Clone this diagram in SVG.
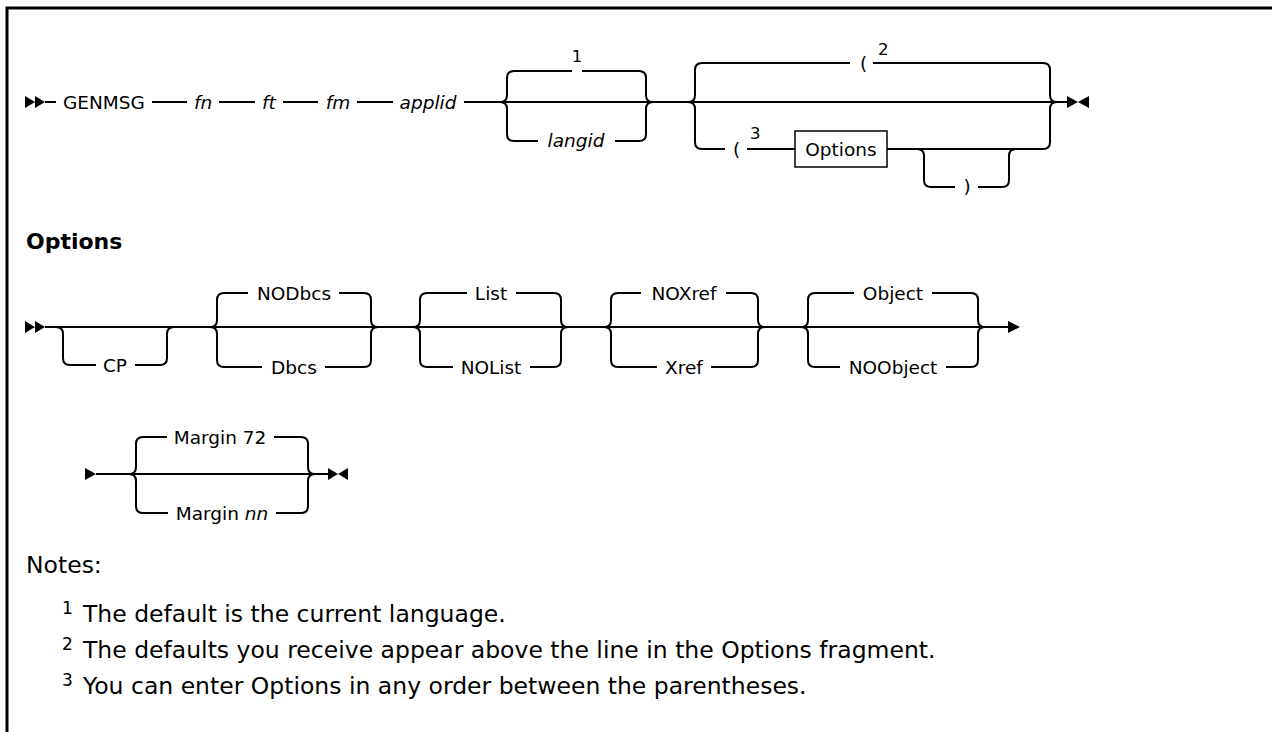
<svg xmlns="http://www.w3.org/2000/svg" width="1272" height="732" viewBox="0 0 1272 732">
<defs>
<style>
.ln{fill:none;stroke:#000;stroke-width:2}
.mk{fill:#000;stroke:none}
.t{font-family:"DejaVu Sans",Verdana,sans-serif;font-size:18.5px;fill:#000}
.i{font-style:italic}
.m{text-anchor:middle}
.sup{font-family:"DejaVu Sans",Verdana,sans-serif;font-size:16.5px;fill:#000}
.h{font-family:"DejaVu Sans",Verdana,sans-serif;font-size:22px;font-weight:bold;fill:#000}
.n{font-family:"DejaVu Sans",Verdana,sans-serif;font-size:23.5px;fill:#000}
.ns{font-family:"DejaVu Sans",Verdana,sans-serif;font-size:17px;fill:#000}
</style>
</defs>
<rect x="0" y="0" width="1272" height="732" fill="#fff"/>
<g id="frame"><path class="ln" d="M7,732 V8 H1272" style="stroke-width:3"/></g>

<g id="connectors">
<!-- Row 1 -->
<path class="mk" d="M25,96 L35,102 L25,108 Z M35,96 L45,102 L35,108 Z"/>
<path class="ln" d="M45,102 H56 M152,102 H187 M219,102 H255 M283,102 H318 M357,102 H393 M464,102 H500"/>
<!-- group langid -->
<path class="ln" d="M500,102 H653"/>
<path class="ln" d="M500,102 Q507,102 507,95 V78 Q507,71 514,71 H572 M582,71 H639 Q646,71 646,78 V95 Q646,102 653,102"/>
<path class="ln" d="M500,102 Q507,102 507,109 V134 Q507,141 514,141 H538 M615,141 H639 Q646,141 646,134 V109 Q646,102 653,102"/>
<path class="ln" d="M653,102 H688"/>
<!-- group options -->
<path class="ln" d="M688,102 H1057"/>
<path class="ln" d="M688,102 Q695,102 695,95 V70 Q695,63 702,63 H850 M873,63 H1043 Q1050,63 1050,70 V95 Q1050,102 1057,102"/>
<path class="ln" d="M688,102 Q695,102 695,109 V142 Q695,149 702,149 H725 M747,149 H795 M887,149 H1043 Q1050,149 1050,142 V109 Q1050,102 1057,102"/>
<path class="ln" d="M917,149 Q924,149 924,156 V180 Q924,187 931,187 H955 M978,187 H1002 Q1009,187 1009,180 V156 Q1009,149 1016,149"/>
<path class="ln" d="M1057,102 H1067"/>
<path class="mk" d="M1067,96 L1078,102 L1067,108 Z M1089,96 L1078,102 L1089,108 Z"/>

<!-- Row 2 -->
<path class="mk" d="M25,321 L35,327 L25,333 Z M35,321 L45,327 L35,333 Z"/>
<path class="ln" d="M45,327 H1008"/>
<path class="mk" d="M1008,321 L1020,327 L1008,333 Z"/>
<!-- CP -->
<path class="ln" d="M56,327 Q63,327 63,334 V358 Q63,365 70,365 H96 M135,365 H160 Q167,365 167,358 V334 Q167,327 174,327"/>
<!-- NODbcs/Dbcs -->
<path class="ln" d="M210,327 Q217,327 217,320 V300 Q217,293 224,293 H248 M339,293 H364 Q371,293 371,300 V320 Q371,327 378,327"/>
<path class="ln" d="M210,327 Q217,327 217,334 V360 Q217,367 224,367 H262 M325,367 H364 Q371,367 371,360 V334 Q371,327 378,327"/>
<!-- List/NOList -->
<path class="ln" d="M413,327 Q420,327 420,320 V300 Q420,293 427,293 H467 M516,293 H554 Q561,293 561,300 V320 Q561,327 568,327"/>
<path class="ln" d="M413,327 Q420,327 420,334 V360 Q420,367 427,367 H453 M530,367 H554 Q561,367 561,360 V334 Q561,327 568,327"/>
<!-- NOXref/Xref -->
<path class="ln" d="M604,327 Q611,327 611,320 V300 Q611,293 618,293 H641 M726,293 H751 Q758,293 758,300 V320 Q758,327 765,327"/>
<path class="ln" d="M604,327 Q611,327 611,334 V360 Q611,367 618,367 H657 M711,367 H751 Q758,367 758,360 V334 Q758,327 765,327"/>
<!-- Object/NOObject -->
<path class="ln" d="M801,327 Q808,327 808,320 V300 Q808,293 815,293 H854 M932,293 H971 Q978,293 978,300 V320 Q978,327 985,327"/>
<path class="ln" d="M801,327 Q808,327 808,334 V360 Q808,367 815,367 H840 M946,367 H971 Q978,367 978,360 V334 Q978,327 985,327"/>

<!-- Row 3 -->
<path class="mk" d="M85,468 L96,474 L85,480 Z"/>
<path class="ln" d="M96,474 H328"/>
<path class="ln" d="M129,474 Q136,474 136,467 V444 Q136,437 143,437 H167 M274,437 H301 Q308,437 308,444 V467 Q308,474 315,474"/>
<path class="ln" d="M129,474 Q136,474 136,481 V506 Q136,513 143,513 H168 M276,513 H301 Q308,513 308,506 V481 Q308,474 315,474"/>
<path class="mk" d="M328,468 L338,474 L328,480 Z M348,468 L338,474 L348,480 Z"/>
</g>

<g id="n-genmsg"><text class="t" x="63" y="109">GENMSG</text></g>
<g id="n-fn"><text class="t i m" x="203" y="109">fn</text></g>
<g id="n-ft"><text class="t i m" x="269" y="109">ft</text></g>
<g id="n-fm"><text class="t i m" x="338" y="109">fm</text></g>
<g id="n-applid"><text class="t i m" x="428" y="109">applid</text></g>
<g id="n-note1"><text class="sup m" x="577" y="62">1</text></g>
<g id="n-langid"><text class="t i m" x="576" y="147">langid</text></g>
<g id="n-paren2"><text class="t" x="860" y="70">(</text><text class="sup" x="878" y="55">2</text></g>
<g id="n-paren3"><text class="t" x="733" y="156">(</text><text class="sup" x="750" y="139">3</text></g>
<g id="n-options-ref"><rect x="795" y="131" width="92" height="36" fill="#fff" stroke="#000" stroke-width="1.5"/><text class="t m" x="841" y="156">Options</text></g>
<g id="n-close"><text class="t m" x="967" y="193">)</text></g>

<g id="n-heading"><text class="h" x="26" y="249">Options</text></g>
<g id="n-cp"><text class="t m" x="115" y="372">CP</text></g>
<g id="n-nodbcs"><text class="t m" x="294" y="300">NODbcs</text></g>
<g id="n-dbcs"><text class="t m" x="294" y="374">Dbcs</text></g>
<g id="n-list"><text class="t m" x="491" y="300">List</text></g>
<g id="n-nolist"><text class="t m" x="491" y="374">NOList</text></g>
<g id="n-noxref"><text class="t m" x="684" y="300">NOXref</text></g>
<g id="n-xref"><text class="t m" x="684" y="374">Xref</text></g>
<g id="n-object"><text class="t m" x="893" y="300">Object</text></g>
<g id="n-noobject"><text class="t m" x="893" y="374">NOObject</text></g>

<g id="n-margin72"><text class="t m" x="220" y="444">Margin 72</text></g>
<g id="n-marginnn"><text class="t m" x="222" y="520">Margin<tspan class="i"> nn</tspan></text></g>

<g id="notes">
<text class="n" x="26" y="573">Notes:</text>
<text class="ns" x="62" y="614">1</text><text class="n" x="83" y="622">The default is the current language.</text>
<text class="ns" x="62" y="650">2</text><text class="n" x="83" y="658">The defaults you receive appear above the line in the Options fragment.</text>
<text class="ns" x="62" y="686">3</text><text class="n" x="83" y="694">You can enter Options in any order between the parentheses.</text>
</g>
</svg>
